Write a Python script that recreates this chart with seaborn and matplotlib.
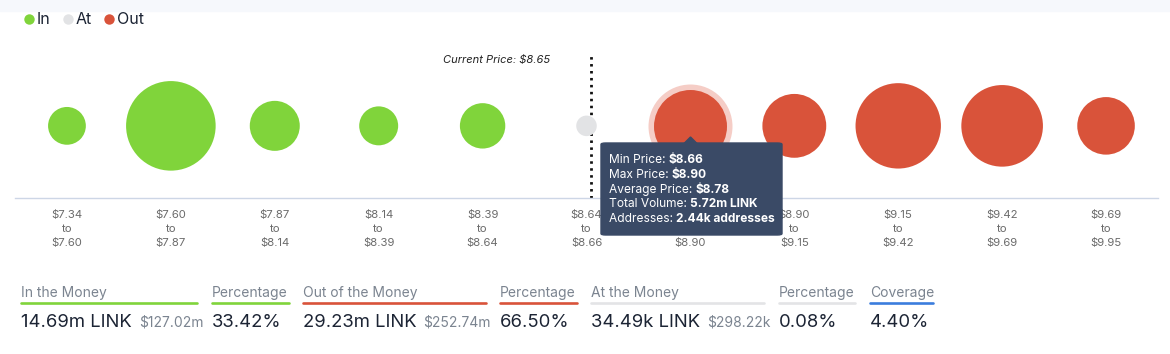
import matplotlib

matplotlib.use("Agg", force=True)
import matplotlib.pyplot as plt
import pandas as pd
import seaborn as sns
from matplotlib.lines import Line2D
from matplotlib.patches import FancyBboxPatch, Polygon, Rectangle

W, H = 1170, 354

# price bins ($) and volume held per bin (m LINK)
bin_lo = ["7.34", "7.60", "7.87", "8.14", "8.39", "8.64", "8.66", "8.90", "9.15", "9.42", "9.69"]
bin_hi = ["7.60", "7.87", "8.14", "8.39", "8.64", "8.66", "8.90", "9.15", "9.42", "9.69", "9.95"]
zone = ["In", "In", "In", "In", "In", "At", "Out", "Out", "Out", "Out", "Out"]
volume = [1.59, 11.8, 3.25, 1.73, 2.57, 0.034, 5.72, 5.69, 10.67, 9.69, 4.51]
current_price = 8.65
hovered = 6

tooltip_labels = ["Min Price: ", "Max Price: ", "Average Price: ", "Total Volume: ", "Addresses: "]
tooltip_values = ["$8.66", "$8.90", "$8.78", "5.72m LINK", "2.44k addresses"]

summary_headers = ["In the Money", "Percentage", "Out of the Money", "Percentage",
                   "At the Money", "Percentage", "Coverage"]
summary_values = ["14.69m LINK", "33.42%", "29.23m LINK", "66.50%", "34.49k LINK", "0.08%", "4.40%"]
summary_usd = ["$127.02m", "", "$252.74m", "", "$298.22k", "", ""]

palette = {"In": "#80d43b", "At": "#e2e3e5", "Out": "#d9533a"}
underline_colors = ["#80d43b", "#80d43b", "#d9533a", "#d9533a", "#e3e4e6", "#e3e4e6", "#3b7ddd"]
# column layout in pixels: (left, right)
columns = [(21, 197), (212, 289), (303, 486), (500, 577), (591, 764), (779, 855), (870, 933)]


def px(x, y):
    return x / W, 1 - y / H


def esc(s):
    return s.replace("$", r"\$")


sns.set_theme(style="white")
plt.rcParams["font.family"] = ["Inter", "DejaVu Sans"]

df = pd.DataFrame({
    "bin": range(len(volume)),
    "row": 0.0,
    "zone": zone,
    "volume": volume,
})

fig = plt.figure(figsize=(W / 100, H / 100), dpi=100)
fig.add_artist(Rectangle((0, 1 - 11 / H), 1, 11 / H, transform=fig.transFigure,
                         color="#f6f8fc", zorder=0))

ax = fig.add_axes([15 / W, 1 - 198 / H, 1143 / W, 158 / H])

# marker area (pt^2) for radius r px: (2 * r * 0.72)^2
smin, smax = 2.0736 * 100, 2.0736 * (100 + 161.5 * max(volume))
sns.scatterplot(data=df, x="bin", y="row", hue="zone", size="volume", palette=palette,
                sizes=(smin, smax), size_norm=(0, max(volume)), linewidth=0,
                legend=False, ax=ax, zorder=2)

# hover state of the selected bubble: halo + slightly enlarged marker
hv = df.iloc[[hovered]]
base = smin + hv["volume"].iloc[0] / max(volume) * (smax - smin)
ax.scatter(hv["bin"], hv["row"], s=base * (42 / 32) ** 2, color="#f5cdc6", linewidth=0, zorder=1)
ax.scatter(hv["bin"], hv["row"], s=base * (36.5 / 32) ** 2, color=palette["Out"], linewidth=0, zorder=3)

ax.set_xlim(-0.5, len(volume) - 0.5)
ax.set_ylim(-1, 1.19)
ax.set_xticks(df["bin"])
ax.set_xticklabels([esc(f"${a}\nto\n${b}") for a, b in zip(bin_lo, bin_hi)],
                   fontsize=8.2, color="#6b6b6b", linespacing=1.5)
ax.tick_params(axis="x", length=0, pad=8.5)
ax.set_yticks([])
ax.set_xlabel("")
ax.set_ylabel("")
for side in ["top", "left", "right"]:
    ax.spines[side].set_visible(False)
ax.spines["bottom"].set_color("#cdd6e6")
ax.spines["bottom"].set_linewidth(1)

# current price marker
ci = bin_lo.index("8.64")
lo, hi = float(bin_lo[ci]), float(bin_hi[ci])
cx = ci + (current_price - lo) / (hi - lo) - 0.5 + 0.04
ax.axvline(cx, ymin=0, ymax=(198 - 55) / 158, color="#111111", lw=2,
           linestyle=(0, (0.9, 1.6)), zorder=1)
fig.text(*px(550, 60), esc(f"Current Price: ${current_price:.2f}"), ha="right", va="center",
         fontsize=8, style="italic", color="#222222")

# legend
lx = [29, 68, 109]
for (name, color), x in zip(palette.items(), lx):
    fig.add_artist(Line2D([x / W], [1 - 19 / H], marker="o", ms=7.5, color=color,
                          markeredgewidth=0, transform=fig.transFigure))
    fig.text(*px(x + 8, 19), name, ha="left", va="center", fontsize=11.5, color="#1c2434")

# tooltip
fig.add_artist(FancyBboxPatch(px(601, 235), 181 / W, 92 / H, boxstyle="round,pad=0,rounding_size=0.004",
                              transform=fig.transFigure, color="#3a4a66", zorder=5))
fig.add_artist(Polygon([px(684, 143.5), px(690.5, 137), px(697, 143.5)], closed=True,
                       transform=fig.transFigure, color="#3a4a66", zorder=5))
fig.canvas.draw()
renderer = fig.canvas.get_renderer()
for i, (lab, val) in enumerate(zip(tooltip_labels, tooltip_values)):
    yb = 163 + i * 14.8
    t = fig.text(*px(609, yb), lab, ha="left", va="baseline", fontsize=8.6, color="white", zorder=6)
    ext = t.get_window_extent(renderer)
    fig.text(ext.x1 / W, 1 - yb / H, esc(val), ha="left", va="baseline", fontsize=8.6,
             color="white", fontweight="bold", zorder=6)

# summary panel
for (x0, x1), head, val, usd, col in zip(columns, summary_headers, summary_values,
                                          summary_usd, underline_colors):
    fig.text(*px(x0, 293), head, ha="left", va="center", fontsize=10, color="#7b8490")
    fig.add_artist(Line2D([x0 / W, x1 / W], [1 - 303 / H] * 2, color=col, lw=1.9,
                          transform=fig.transFigure))
    t = fig.text(*px(x0, 327), val, ha="left", va="baseline", fontsize=13.3, color="#1c2434")
    if usd:
        ext = t.get_window_extent(renderer)
        fig.text((ext.x1 + 7) / W, 1 - 327 / H, esc(usd), ha="left", va="baseline",
                 fontsize=10, color="#7b8490")

fig.savefig("out.png", dpi=100)
